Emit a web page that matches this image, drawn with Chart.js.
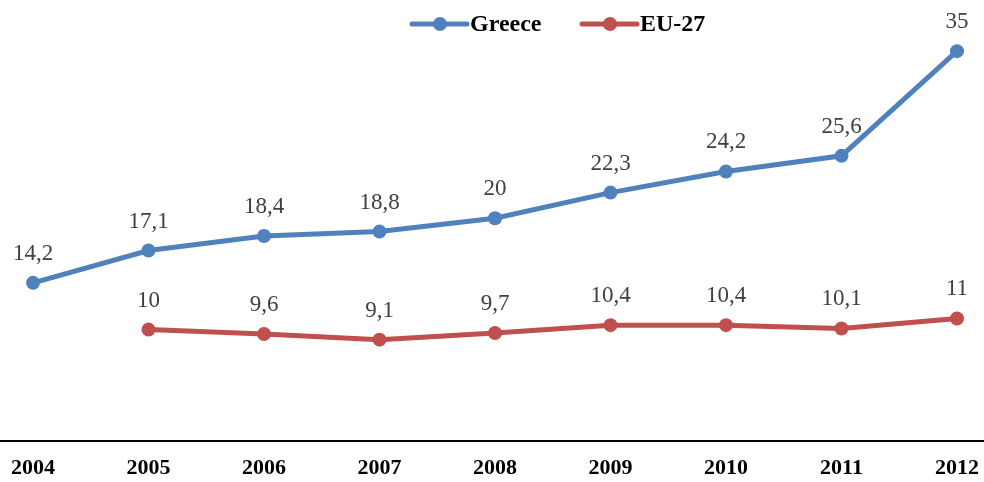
<!DOCTYPE html>
<html>
<head>
<meta charset="utf-8">
<script src="https://cdn.jsdelivr.net/npm/chart.js@4/dist/chart.umd.min.js"></script>
<style>
  html, body { margin: 0; padding: 0; background: #fff; }
  #wrap { width: 984px; height: 482px; }
</style>
</head>
<body>
<div id="wrap"><canvas id="chart"></canvas></div>
<script>
const years = ['2004', '2005', '2006', '2007', '2008', '2009', '2010', '2011', '2012'];
const greece = [14.2, 17.1, 18.4, 18.8, 20, 22.3, 24.2, 25.6, 35];
const eu27 = [null, 10, 9.6, 9.1, 9.7, 10.4, 10.4, 10.1, 11];

const serif = '"Liberation Serif", "Times New Roman", serif';
const blue = '#4f81bd';
const red = '#c0504d';

// value labels above each point, comma as decimal mark
const valueLabels = {
  id: 'valueLabels',
  afterDatasetsDraw(chart) {
    const ctx = chart.ctx;
    ctx.save();
    ctx.font = '23px ' + serif;
    ctx.fillStyle = '#404040';
    ctx.textAlign = 'center';
    ctx.textBaseline = 'alphabetic';
    chart.data.datasets.forEach((ds, i) => {
      chart.getDatasetMeta(i).data.forEach((pt, j) => {
        const v = ds.data[j];
        if (v == null) return;
        ctx.fillText(String(v).replace('.', ','), pt.x, pt.y - 23);
      });
    });
    ctx.restore();
  }
};

// black base line across the whole width
const baseLine = {
  id: 'baseLine',
  beforeDatasetsDraw(chart) {
    const ctx = chart.ctx;
    const y = chart.scales.y.getPixelForValue(0);
    ctx.save();
    ctx.strokeStyle = '#000';
    ctx.lineWidth = 2;
    ctx.beginPath();
    ctx.moveTo(0, y);
    ctx.lineTo(chart.width, y);
    ctx.stroke();
    ctx.restore();
  }
};

// legend: line with a marker, then bold name
const lineLegend = {
  id: 'lineLegend',
  afterDraw(chart) {
    const ctx = chart.ctx;
    const starts = [412, 582];
    ctx.save();
    ctx.font = 'bold 24px ' + serif;
    ctx.textBaseline = 'middle';
    ctx.textAlign = 'left';
    chart.data.datasets.forEach((ds, i) => {
      const x = starts[i];
      const y = 24;
      ctx.strokeStyle = ds.borderColor;
      ctx.lineWidth = 5;
      ctx.lineCap = 'round';
      ctx.beginPath();
      ctx.moveTo(x, y);
      ctx.lineTo(x + 55, y);
      ctx.stroke();
      ctx.fillStyle = ds.borderColor;
      ctx.beginPath();
      ctx.arc(x + 28, y, 7, 0, Math.PI * 2);
      ctx.fill();
      ctx.fillStyle = '#000';
      ctx.fillText(ds.label, x + 58, y + 1);
    });
    ctx.restore();
  }
};

new Chart(document.getElementById('chart'), {
  type: 'line',
  data: {
    labels: years,
    datasets: [
      {
        label: 'Greece',
        data: greece,
        borderColor: blue,
        backgroundColor: blue,
        borderWidth: 5,
        pointRadius: 7,
        pointBackgroundColor: blue,
        pointBorderWidth: 0,
        tension: 0
      },
      {
        label: 'EU-27',
        data: eu27,
        borderColor: red,
        backgroundColor: red,
        borderWidth: 5,
        pointRadius: 7,
        pointBackgroundColor: red,
        pointBorderWidth: 0,
        tension: 0
      }
    ]
  },
  options: {
    responsive: true,
    maintainAspectRatio: false,
    animation: false,
    layout: { padding: { left: 33, right: 27, top: 40, bottom: 0 } },
    plugins: {
      legend: { display: false },
      tooltip: { enabled: false }
    },
    scales: {
      x: {
        offset: false,
        grid: { display: false, drawTicks: false },
        border: { display: false },
        afterFit(scale) {
          scale.height = 41;
          scale.paddingLeft = 0;
          scale.paddingRight = 0;
        },
        ticks: {
          padding: 14,
          color: '#000',
          maxRotation: 0,
          font: { family: serif, size: 22, weight: 'bold' }
        }
      },
      y: {
        display: false,
        min: 0,
        max: 36
      }
    }
  },
  plugins: [valueLabels, baseLine, lineLegend]
});
</script>
</body>
</html>
